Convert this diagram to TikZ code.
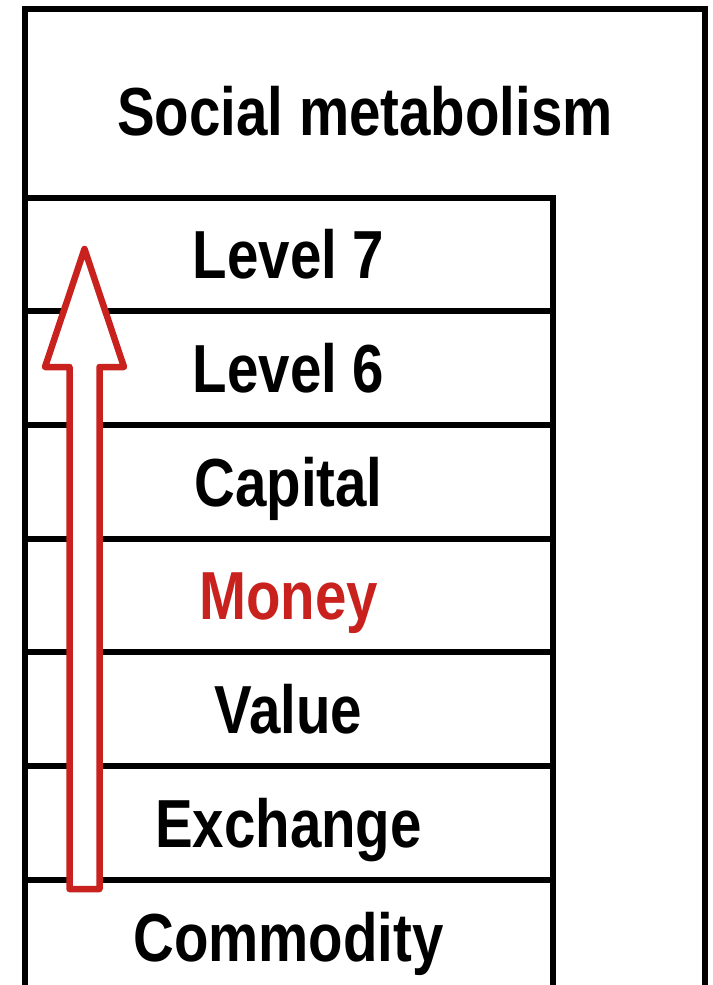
\documentclass[tikz,border=0pt]{standalone}
\usepackage{fontspec}
\setmainfont{Liberation Sans}[FakeStretch=0.83]
\usetikzlibrary{positioning}
\definecolor{darkred}{HTML}{C9211E}

\begin{document}
\begin{tikzpicture}
      [
        x = 1pt, y = -1pt,
        label/.style = {font=\fontsize{68}{80}\selectfont\bfseries, text height=49pt, text depth=0pt, inner sep=0pt},
        layer/.style = {label, draw, line width=6pt, outer sep=0pt, minimum width=528pt, minimum height=113.7pt},
      ]

      \useasboundingbox (0,0) rectangle (712,985);

      % outer frame, open at the bottom
      \draw[line width=6pt] (24.5,985) |- (705,8.5) -- (705,985);
      \node[label] (social) at (365,111) {Social metabolism};

      \node[layer, anchor=north] (level7) at (288.5,197.5) {Level 7};
      \node[layer, below=0pt of level7] (level6) {Level 6};
      \node[layer, below=0pt of level6] (capital) {Capital};
      \node[layer, below=0pt of capital, text=darkred] (money) {Money};
      \node[layer, below=0pt of money] (value) {Value};
      \node[layer, below=0pt of value] (exchange) {Exchange};
      \node[layer, below=0pt of exchange] (commodity) {Commodity};

      % rising arrow
      \draw[darkred, fill=white, line width=6.5pt, line join=round]
        (69.5,889) -- (69.5,367) -- (45,367) -- (84.5,249) -- (124,367) -- (99.5,367) -- (99.5,889) -- cycle;
    \end{tikzpicture}
\end{document}
